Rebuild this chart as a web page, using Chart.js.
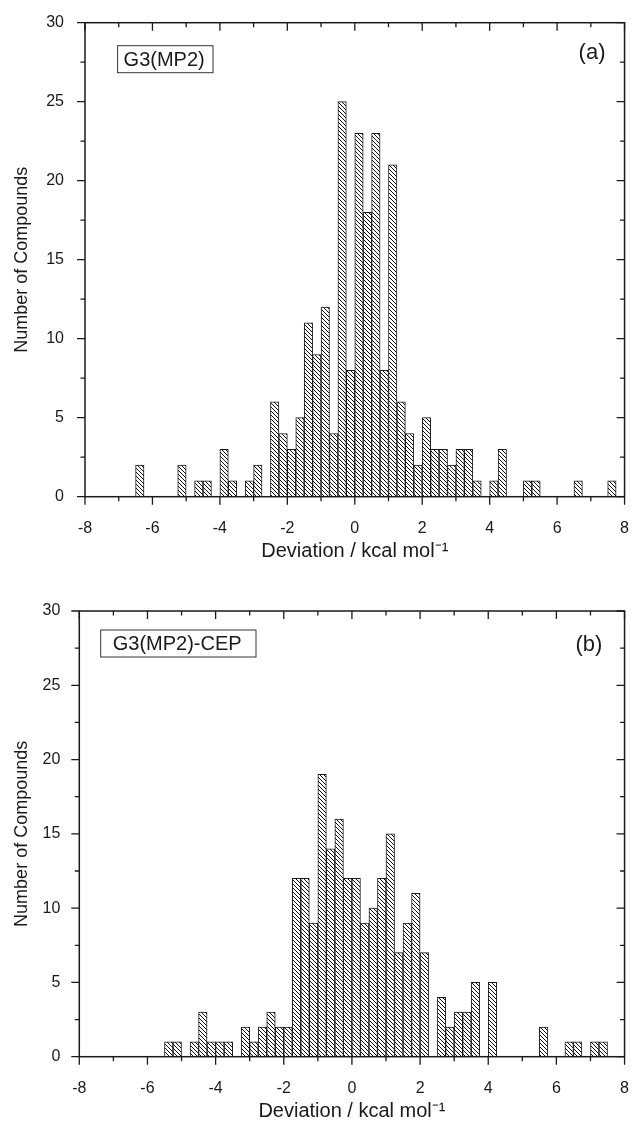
<!DOCTYPE html>
<html>
<head>
<meta charset="utf-8">
<script src="https://cdn.jsdelivr.net/npm/chart.js@4.4.1/dist/chart.umd.min.js"></script>
<style>
  html, body { margin: 0; padding: 0; background: #fff; }
  .panel { position: absolute; left: 0; width: 643px; }
</style>
</head>
<body>
<div class="panel" style="top:0;height:575px"><canvas id="chartA"></canvas></div>
<div class="panel" style="top:575px;height:546px"><canvas id="chartB"></canvas></div>
<script>
// Histogram bins (left edge, kcal/mol) and counts, bin width 0.25
const binWidth = 0.25

// (a) G3(MP2)
const binsA = [-6.5, -5.25, -4.75, -4.5, -4.0, -3.75, -3.25, -3.0, -2.5, -2.25, -2.0, -1.75, -1.5, -1.25,
  -1.0, -0.75, -0.5, -0.25, 0, 0.25, 0.5, 0.75, 1.0, 1.25, 1.5, 1.75, 2.0, 2.25, 2.5, 2.75, 3.0, 3.25,
  3.5, 4.0, 4.25, 5.0, 5.25, 6.5, 7.5]
const countsA = [2, 2, 1, 1, 3, 1, 1, 2, 6, 4, 3, 5, 11, 9,
  12, 4, 25, 8, 23, 18, 23, 8, 21, 6, 4, 2, 5, 3, 3, 2, 3, 3,
  1, 1, 3, 1, 1, 1, 1]

// (b) G3(MP2)-CEP
const binsB = [-5.5, -5.25, -4.75, -4.5, -4.25, -4.0, -3.75, -3.25, -3.0, -2.75, -2.5, -2.25, -2.0,
  -1.75, -1.5, -1.25, -1.0, -0.75, -0.5, -0.25, 0, 0.25, 0.5, 0.75, 1.0, 1.25, 1.5, 1.75, 2.0,
  2.5, 2.75, 3.0, 3.25, 3.5, 4.0, 5.5, 6.25, 6.5, 7.0, 7.25]
const countsB = [1, 1, 1, 3, 1, 1, 1, 2, 1, 2, 3, 2, 2,
  12, 12, 9, 19, 14, 16, 12, 12, 9, 10, 12, 15, 7, 9, 11, 7,
  4, 2, 3, 3, 5, 5, 2, 1, 1, 1, 1]

// Tick labels
const xLabels = [-8, -6, -4, -2, 0, 2, 4, 6, 8]
const yLabels = [0, 5, 10, 15, 20, 25, 30]

const FONT = "'Liberation Sans', Arial, sans-serif"
const INK = '#1a1a1a'

// Patrón de rayado diagonal "\\\"
const hatch = (ctx) => {
  const c = document.createElement('canvas')
  c.width = 4; c.height = 4
  const g = c.getContext('2d')
  g.fillStyle = '#fff'
  g.fillRect(0, 0, 4, 4)
  g.strokeStyle = '#111'
  g.lineWidth = 1
  g.beginPath()
  g.moveTo(-1, -1); g.lineTo(5, 5)
  g.moveTo(-1, 3); g.lineTo(1, 5)
  g.moveTo(3, -1); g.lineTo(5, 1)
  g.stroke()
  return ctx.createPattern(c, 'repeat')
}

// Marco, ticks menores/mayores y etiquetas del panel
const frame = {
  id: 'frame',
  afterDraw(chart, args, o) {
    const { ctx, chartArea: a, scales: { x, y } } = chart
    ctx.save()
    ctx.strokeStyle = INK
    ctx.lineWidth = 1.5
    ctx.strokeRect(a.left, a.top, a.right - a.left, a.bottom - a.top)
    ctx.lineWidth = 1.3
    ctx.beginPath()
    x.ticks.forEach(t => {
      const px = x.getPixelForValue(t.value)
      const major = xLabels.includes(t.value)
      ctx.moveTo(px, a.bottom); ctx.lineTo(px, a.bottom + (major ? 8 : 4.5))
      ctx.moveTo(px, a.top); ctx.lineTo(px, a.top + (major ? 8 : 4.5))
    })
    y.ticks.forEach(t => {
      const py = y.getPixelForValue(t.value)
      const major = yLabels.includes(t.value)
      ctx.moveTo(a.left, py); ctx.lineTo(a.left - (major ? 8 : 4.5), py)
      ctx.moveTo(a.right, py); ctx.lineTo(a.right - (major ? 8 : 4.5), py)
    })
    ctx.stroke()

    // caja con el nombre del método
    const bx = a.left + o.box[0], by = a.top + o.box[1]
    ctx.lineWidth = 1
    ctx.strokeStyle = '#333'
    ctx.strokeRect(bx, by, o.box[2], o.box[3])
    ctx.fillStyle = INK
    ctx.font = `20px ${FONT}`
    ctx.textBaseline = 'middle'
    ctx.textAlign = 'left'
    ctx.fillText(o.label, bx + o.box[4], by + o.box[3] / 2 + 1)

    ctx.font = `22px ${FONT}`
    ctx.textAlign = 'center'
    ctx.fillText(o.tag, a.right + o.tagPos[0], a.top + o.tagPos[1])
    ctx.restore()
  }
}

const crearPanel = (id, bins, counts, geo, labels) => {
  const canvas = document.getElementById(id)
  const ctx = canvas.getContext('2d')
  return new Chart(canvas, {
    type: 'bar',
    data: {
      datasets: [{
        data: bins.map((b, i) => ({ x: b + binWidth / 2, y: counts[i] })),
        backgroundColor: hatch(ctx),
        borderColor: '#1a1a1a',
        borderWidth: 1,
        barPercentage: 1,
        categoryPercentage: 1
      }]
    },
    options: {
      responsive: true,
      maintainAspectRatio: false,
      animation: false,
      layout: { padding: { left: 0, right: geo.right, top: geo.top, bottom: 0 } },
      plugins: {
        legend: { display: false },
        tooltip: { enabled: false },
        frame: labels
      },
      scales: {
        x: {
          type: 'linear',
          min: -8,
          max: 8,
          offset: false,
          grid: { display: false, offset: false },
          border: { display: false },
          ticks: {
            stepSize: 1,
            autoSkip: false,
            maxRotation: 0,
            padding: geo.xPad,
            color: INK,
            font: { family: FONT, size: 16 },
            callback: v => xLabels.includes(v) ? String(v) : ''
          },
          title: {
            display: true,
            text: 'Deviation / kcal mol⁻¹',
            color: INK,
            font: { family: FONT, size: 20, lineHeight: 1 },
            padding: { top: 0, bottom: geo.xTitle }
          },
          afterFit: s => { s.height = geo.xHeight }
        },
        y: {
          min: 0,
          max: 30,
          grid: { display: false },
          border: { display: false },
          ticks: {
            stepSize: 2.5,
            autoSkip: false,
            padding: geo.yPad,
            color: INK,
            font: { family: FONT, size: 16 },
            callback: v => yLabels.includes(v) ? String(v) : ''
          },
          title: {
            display: true,
            text: 'Number of Compounds',
            color: INK,
            font: { family: FONT, size: 18, lineHeight: 1 },
            padding: { top: 13, bottom: 0 }
          },
          afterFit: s => { s.width = geo.yWidth }
        }
      }
    },
    plugins: [frame]
  })
}

crearPanel('chartA', binsA, countsA,
  { top: 22.7, right: 14, yWidth: 85, xHeight: 78.3, xPad: 14, yPad: 13, xTitle: 13.5 },
  { label: 'G3(MP2)', tag: '(a)', box: [32.6, 23, 95.4, 27, 6], tagPos: [-32.5, 30.5] })

crearPanel('chartB', binsB, countsB,
  { top: 36, right: 6.3, yWidth: 79.3, xHeight: 64.3, xPad: 14, yPad: 11, xTitle: 0 },
  { label: 'G3(MP2)-CEP', tag: '(b)', box: [21.4, 19, 155.3, 27, 12], tagPos: [-35.7, 34] })
</script>
</body>
</html>
